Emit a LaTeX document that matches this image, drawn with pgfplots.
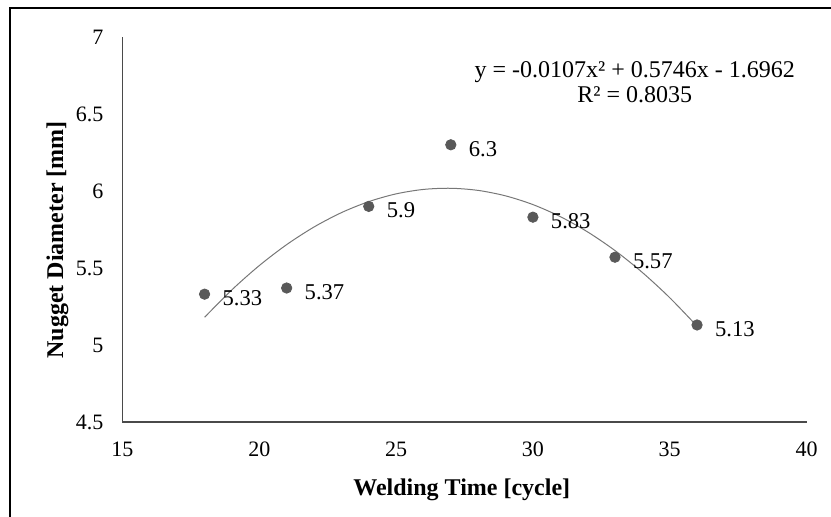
\documentclass[border=0pt]{standalone}
\usepackage{fontspec}
\setmainfont{Liberation Serif}
\usepackage{pgfplots}
\pgfplotsset{compat=1.18}
\definecolor{markgray}{HTML}{595959}
\definecolor{axgray}{HTML}{4A4A4A}
\definecolor{curvegray}{HTML}{777777}
\begin{document}
\begin{tikzpicture}
\useasboundingbox (0,0) rectangle (415.5pt,258.5pt);
\draw[line width=1.1pt, black] (5pt,-2pt) -- (5pt,254.5pt) -- (420pt,254.5pt);
\begin{axis}[
  at={(61.25pt,47.5pt)}, anchor=south west,
  scale only axis, width=342pt, height=192.5pt,
  xmin=15, xmax=40, ymin=4.5, ymax=7,
  xtick={15,20,25,30,35,40},
  ytick={4.5,5,5.5,6,6.5,7},
  axis x line*=bottom, axis y line*=left,
  axis line style={axgray, line width=0.7pt},
  major tick length=0pt,
  /pgf/number format/assume math mode=true,
  tick label style={font=\fontsize{11}{13}\selectfont, black},
  xticklabel style={yshift=-6.5pt},
  yticklabel style={xshift=-6pt},
  every axis x label/.style={at={(axis description cs:0.496,-0.1766)}, anchor=center},
  every axis y label/.style={at={(axis description cs:-0.095,0.473)}, rotate=90, anchor=center},
  xlabel={\fontsize{12}{13}\selectfont\bfseries Welding Time [cycle]},
  ylabel={\fontsize{12}{13}\selectfont\bfseries Nugget Diameter [mm]},
  clip=false,
]
\addplot[curvegray, line width=0.5pt, smooth] coordinates {
 (18,5.1798) (19,5.3585) (20,5.5158) (21,5.6517) (22,5.7662) (23,5.8593)
 (24,5.9310) (25,5.9813) (26,6.0102) (27,6.0177) (28,6.0038) (29,5.9685)
 (30,5.9118) (31,5.8337) (32,5.7342) (33,5.6133) (34,5.4710) (35,5.3073)
 (36,5.1222)
};
\addplot[only marks, mark=*, mark size=2.6pt, mark options={fill=markgray, draw=markgray},
  nodes near coords, point meta=explicit symbolic,
  every node near coord/.append style={anchor=west, xshift=5.5pt, yshift=-2pt, font=\fontsize{11.3}{13}\selectfont, black}]
 coordinates {
 (18,5.33) [5.33] (21,5.37) [5.37] (24,5.9) [5.9] (27,6.3) [6.3]
 (30,5.83) [5.83] (33,5.57) [5.57] (36,5.13) [5.13]
};
\node[align=center, font=\fontsize{12}{12.5}\selectfont] at (axis description cs:0.749,0.882)
 {y = -0.0107x² + 0.5746x - 1.6962\\R² = 0.8035};
\end{axis}
\end{tikzpicture}
\end{document}
